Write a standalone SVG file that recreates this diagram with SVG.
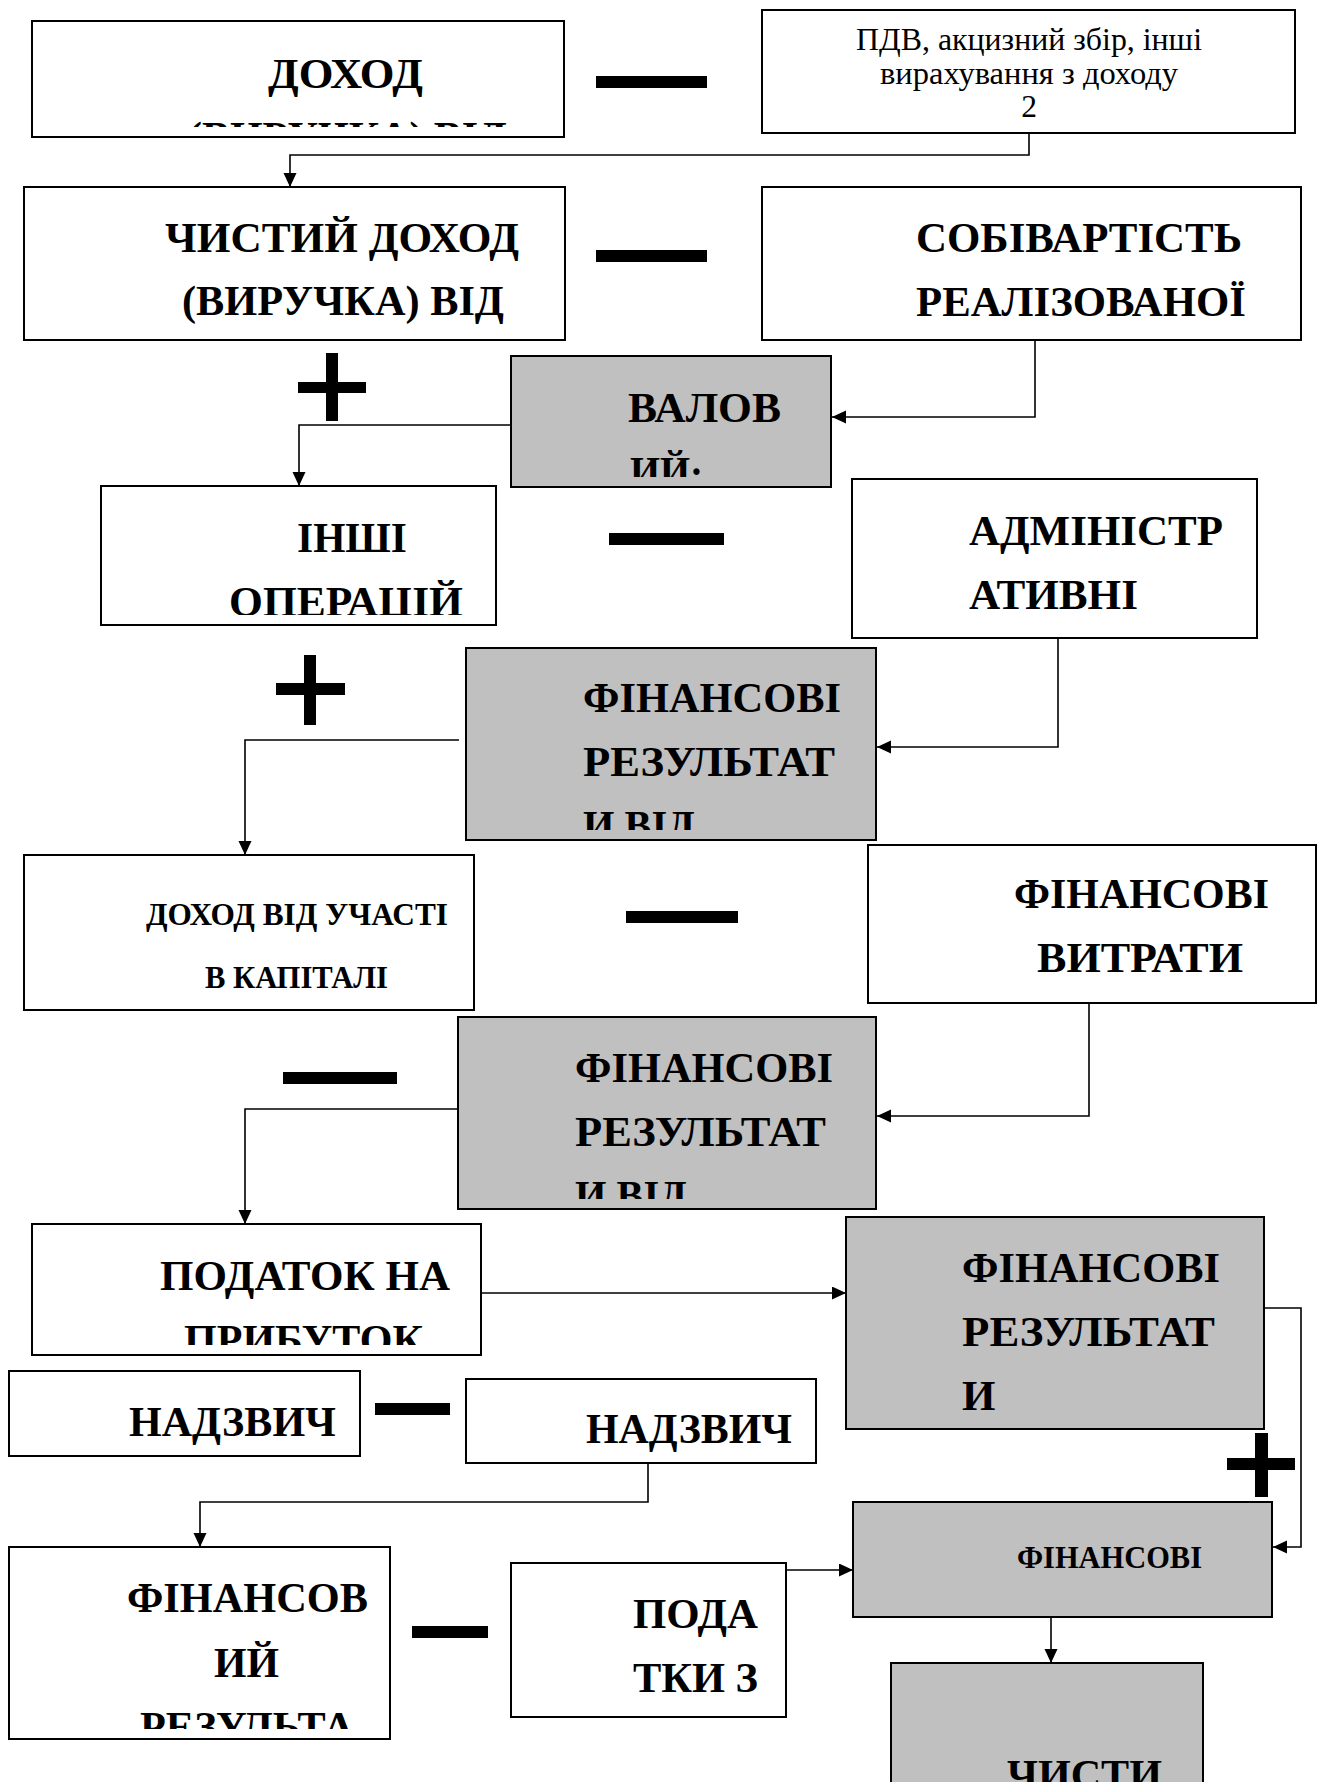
<svg xmlns="http://www.w3.org/2000/svg" width="1326" height="1782" viewBox="0 0 1326 1782">
  <style>
    .box { fill: #ffffff; stroke: #000000; stroke-width: 2; }
    .gray { fill: #c0c0c0; }
    .t { font-family: "Liberation Serif", "Times New Roman", serif; font-weight: bold; font-size: 43px; fill: #000000; }
    .s { font-size: 31px; }
    .r { font-weight: normal; font-size: 31.5px; }
    .mid { text-anchor: middle; }
    .op { fill: #000000; }
    .conn { fill: none; stroke: #000000; stroke-width: 1.6; }
  </style>
  <defs>
    <marker id="arrow" markerUnits="userSpaceOnUse" markerWidth="16" markerHeight="14" refX="14" refY="6.5" orient="auto">
      <path d="M0,0 L14,6.5 L0,13 z" fill="#000000"/>
    </marker>
    <!-- text areas that cut off overflowing lines -->
    <clipPath id="clip-n1"><rect x="32" y="21" width="532" height="106"/></clipPath>
    <clipPath id="clip-n5"><rect x="511" y="356" width="320" height="121"/></clipPath>
    <clipPath id="clip-n6"><rect x="101" y="486" width="395" height="129"/></clipPath>
    <clipPath id="clip-n8"><rect x="466" y="648" width="410" height="182"/></clipPath>
    <clipPath id="clip-n11"><rect x="458" y="1017" width="418" height="182"/></clipPath>
    <clipPath id="clip-n12"><rect x="32" y="1224" width="449" height="121"/></clipPath>
    <clipPath id="clip-n16"><rect x="9" y="1547" width="381" height="182"/></clipPath>
  </defs>

  <!-- nodes -->
  <g id="n1-income">
    <rect class="box" x="32" y="21" width="532" height="116"/>
    <g clip-path="url(#clip-n1)">
      <text class="t" x="268" y="88" textLength="155" lengthAdjust="spacingAndGlyphs">ДОХОД</text>
      <text class="t" x="188" y="151" textLength="319" lengthAdjust="spacingAndGlyphs">(ВИРУЧКА) ВІД</text>
    </g>
  </g>
  <g id="n2-deductions">
    <rect class="box" x="762" y="10" width="533" height="123"/>
    <text class="t r mid" x="1029" y="50" textLength="346" lengthAdjust="spacingAndGlyphs">ПДВ, акцизний збір, інші</text>
    <text class="t r mid" x="1029" y="84" textLength="298" lengthAdjust="spacingAndGlyphs">вирахування з доходу</text>
    <text class="t r mid" x="1029" y="117">2</text>
  </g>
  <g id="n3-net-income">
    <rect class="box" x="24" y="187" width="541" height="153"/>
    <text class="t" x="165" y="252" textLength="354" lengthAdjust="spacingAndGlyphs">ЧИСТИЙ ДОХОД</text>
    <text class="t" x="182" y="315" textLength="322" lengthAdjust="spacingAndGlyphs">(ВИРУЧКА) ВІД</text>
  </g>
  <g id="n4-cost">
    <rect class="box" x="762" y="187" width="539" height="153"/>
    <text class="t" x="916" y="252" textLength="326" lengthAdjust="spacingAndGlyphs">СОБІВАРТІСТЬ</text>
    <text class="t" x="916" y="316" textLength="330" lengthAdjust="spacingAndGlyphs">РЕАЛІЗОВАНОЇ</text>
  </g>
  <g id="n5-gross">
    <rect class="box gray" x="511" y="356" width="320" height="131"/>
    <g clip-path="url(#clip-n5)">
      <text class="t" x="628" y="422" textLength="153" lengthAdjust="spacingAndGlyphs">ВАЛОВ</text>
      <text class="t" x="630" y="486" textLength="73" lengthAdjust="spacingAndGlyphs">ИЙ·</text>
    </g>
  </g>
  <g id="n6-other-ops">
    <rect class="box" x="101" y="486" width="395" height="139"/>
    <g clip-path="url(#clip-n6)">
      <text class="t" x="297" y="552" textLength="110" lengthAdjust="spacingAndGlyphs">ІНШІ</text>
      <text class="t" x="229" y="616" textLength="234" lengthAdjust="spacingAndGlyphs">ОПЕРАЦІЙ</text>
    </g>
  </g>
  <g id="n7-admin">
    <rect class="box" x="852" y="479" width="405" height="159"/>
    <text class="t" x="969" y="545" textLength="254" lengthAdjust="spacingAndGlyphs">АДМІНІСТР</text>
    <text class="t" x="969" y="609" textLength="169" lengthAdjust="spacingAndGlyphs">АТИВНІ</text>
  </g>
  <g id="n8-result-ops">
    <rect class="box gray" x="466" y="648" width="410" height="192"/>
    <g clip-path="url(#clip-n8)">
      <text class="t" x="583" y="712" textLength="258" lengthAdjust="spacingAndGlyphs">ФІНАНСОВІ</text>
      <text class="t" x="583" y="776" textLength="252" lengthAdjust="spacingAndGlyphs">РЕЗУЛЬТАТ</text>
      <text class="t" x="583" y="840" textLength="112" lengthAdjust="spacingAndGlyphs">И ВІД</text>
    </g>
  </g>
  <g id="n9-equity-income">
    <rect class="box" x="24" y="855" width="450" height="155"/>
    <text class="t s" x="146" y="925" textLength="302" lengthAdjust="spacingAndGlyphs">ДОХОД ВІД УЧАСТІ</text>
    <text class="t s" x="205" y="988" textLength="183" lengthAdjust="spacingAndGlyphs">В КАПІТАЛІ</text>
  </g>
  <g id="n10-fin-costs">
    <rect class="box" x="868" y="845" width="448" height="158"/>
    <text class="t" x="1014" y="908" textLength="255" lengthAdjust="spacingAndGlyphs">ФІНАНСОВІ</text>
    <text class="t" x="1037" y="972" textLength="206" lengthAdjust="spacingAndGlyphs">ВИТРАТИ</text>
  </g>
  <g id="n11-result-ordinary">
    <rect class="box gray" x="458" y="1017" width="418" height="192"/>
    <g clip-path="url(#clip-n11)">
      <text class="t" x="575" y="1082" textLength="258" lengthAdjust="spacingAndGlyphs">ФІНАНСОВІ</text>
      <text class="t" x="575" y="1146" textLength="251" lengthAdjust="spacingAndGlyphs">РЕЗУЛЬТАТ</text>
      <text class="t" x="575" y="1210" textLength="112" lengthAdjust="spacingAndGlyphs">И ВІД</text>
    </g>
  </g>
  <g id="n12-profit-tax">
    <rect class="box" x="32" y="1224" width="449" height="131"/>
    <g clip-path="url(#clip-n12)">
      <text class="t" x="160" y="1290" textLength="290" lengthAdjust="spacingAndGlyphs">ПОДАТОК НА</text>
      <text class="t" x="184" y="1354" textLength="239" lengthAdjust="spacingAndGlyphs">ПРИБУТОК</text>
    </g>
  </g>
  <g id="n13-result-after-tax">
    <rect class="box gray" x="846" y="1217" width="418" height="212"/>
    <text class="t" x="962" y="1282" textLength="258" lengthAdjust="spacingAndGlyphs">ФІНАНСОВІ</text>
    <text class="t" x="962" y="1346" textLength="253" lengthAdjust="spacingAndGlyphs">РЕЗУЛЬТАТ</text>
    <text class="t" x="962" y="1410">И</text>
  </g>
  <g id="n14-extraordinary-a">
    <rect class="box" x="9" y="1371" width="351" height="85"/>
    <text class="t" x="129" y="1436" textLength="207" lengthAdjust="spacingAndGlyphs">НАДЗВИЧ</text>
  </g>
  <g id="n15-extraordinary-b">
    <rect class="box" x="466" y="1379" width="350" height="84"/>
    <text class="t" x="586" y="1443" textLength="206" lengthAdjust="spacingAndGlyphs">НАДЗВИЧ</text>
  </g>
  <g id="n16-extra-result">
    <rect class="box" x="9" y="1547" width="381" height="192"/>
    <g clip-path="url(#clip-n16)">
      <text class="t" x="127" y="1612" textLength="241" lengthAdjust="spacingAndGlyphs">ФІНАНСОВ</text>
      <text class="t" x="214" y="1677" textLength="65" lengthAdjust="spacingAndGlyphs">ИЙ</text>
      <text class="t" x="140" y="1741" textLength="214" lengthAdjust="spacingAndGlyphs">РЕЗУЛЬТА</text>
    </g>
  </g>
  <g id="n17-taxes">
    <rect class="box" x="511" y="1563" width="275" height="154"/>
    <text class="t" x="633" y="1628" textLength="125" lengthAdjust="spacingAndGlyphs">ПОДА</text>
    <text class="t" x="633" y="1692" textLength="125" lengthAdjust="spacingAndGlyphs">ТКИ З</text>
  </g>
  <g id="n18-fin-results">
    <rect class="box gray" x="853" y="1502" width="419" height="115"/>
    <text class="t s" x="1017" y="1568" textLength="185" lengthAdjust="spacingAndGlyphs">ФІНАНСОВІ</text>
  </g>
  <g id="n19-net">
    <rect class="box gray" x="891" y="1663" width="312" height="140"/>
    <text class="t" x="1007" y="1789" textLength="155" lengthAdjust="spacingAndGlyphs">ЧИСТИ</text>
  </g>

  <!-- plus / minus signs -->
  <g id="operators" class="op">
    <rect x="596" y="76" width="111" height="12"/>
    <rect x="596" y="250" width="111" height="12"/>
    <rect x="609" y="533" width="115" height="12"/>
    <rect x="626" y="911" width="112" height="12"/>
    <rect x="283" y="1072" width="114" height="12"/>
    <rect x="375" y="1403" width="75" height="12"/>
    <rect x="412" y="1626" width="76" height="12"/>
    <path d="M326,353 h12 v29 h28 v11 h-28 v28 h-12 v-28 h-28 v-11 h28 z"/>
    <path d="M304,655 h12 v28 h29 v12 h-29 v30 h-12 v-30 h-28 v-12 h28 z"/>
    <path d="M1255,1433 h13 v25 h27 v12 h-27 v27 h-13 v-27 h-28 v-12 h28 z"/>
  </g>

  <!-- connectors -->
  <g id="connectors" class="conn" marker-end="url(#arrow)">
    <path d="M1029,133 V155 H290 V187"/>
    <path d="M1035,340 V417 H832"/>
    <path d="M511,425 H299 V486"/>
    <path d="M1058,638 V747 H877"/>
    <path d="M459,740 H245 V855"/>
    <path d="M1089,1003 V1116 H877"/>
    <path d="M458,1109 H245 V1224"/>
    <path d="M481,1293 H846"/>
    <path d="M648,1463 V1502 H200 V1547"/>
    <path d="M1264,1308 H1301 V1547 H1273"/>
    <path d="M786,1570 H853"/>
    <path d="M1051,1617 V1663"/>
  </g>
</svg>
